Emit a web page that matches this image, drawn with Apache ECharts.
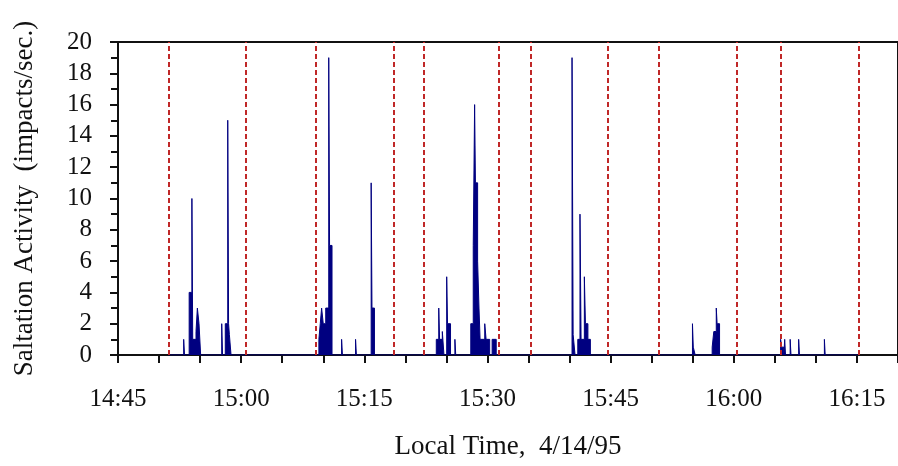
<!DOCTYPE html>
<html>
<head>
<meta charset="utf-8">
<script src="https://cdn.jsdelivr.net/npm/echarts@6/dist/echarts.min.js"></script>
<style>
  html, body { margin: 0; padding: 0; background: #fff; }
  #chart { width: 898px; height: 466px; }
</style>
</head>
<body>
<div id="chart"></div>
<script>
// sample change points: value holds until the next time
const sampleTimes = [
  '14:51:06',
  '14:53:00', '14:53:06', '14:53:40', '14:54:00', '14:54:06', '14:54:30', '14:54:40', '14:54:52', '14:55:04',
  '14:57:38', '14:57:44', '14:58:04', '14:58:22', '14:58:28', '14:58:34', '14:58:46',
  '15:09:28', '15:09:38', '15:09:48', '15:10:00', '15:10:18', '15:10:40', '15:10:46', '15:11:04',
  '15:12:14', '15:12:20', '15:13:56', '15:14:02', '15:15:50', '15:15:56', '15:16:14',
  '15:23:46', '15:24:04', '15:24:10', '15:24:30', '15:24:42', '15:25:02', '15:25:08', '15:25:30', '15:26:02', '15:26:08',
  '15:27:58', '15:28:16', '15:28:26', '15:28:32', '15:28:48', '15:28:58', '15:29:06', '15:29:40', '15:29:50', '15:30:16', '15:30:34', '15:31:04',
  '15:40:18', '15:40:26', '15:40:40', '15:41:00', '15:41:16', '15:41:24', '15:41:48', '15:41:56', '15:42:14', '15:42:32',
  '15:54:58', '15:55:04', '15:55:18', '15:57:22', '15:57:34', '15:57:52', '15:57:58', '15:58:16',
  '16:05:42', '16:05:50', '16:06:06', '16:06:12', '16:06:18', '16:06:52', '16:06:58', '16:07:54', '16:08:00', '16:11:02', '16:11:08',
  '16:15:08'
];
const activity = [
  0,
  1, 0, 4, 10, 1, 1.5, 3, 2, 0,
  2, 0, 2, 15, 2, 1.3, 0,
  1, 2, 3, 2, 3, 19, 7, 0,
  1, 0, 1, 0, 11, 3, 0,
  1, 3, 1, 1.5, 0, 5, 2, 0, 1, 0,
  2, 7, 16, 11, 6, 3, 1, 2, 1, 0, 1, 0,
  19, 1.3, 0, 1, 9, 1, 5, 2, 1, 0,
  2, 0.5, 0, 0.5, 1.5, 3, 2, 0,
  1, 0.5, 0, 1, 0, 1, 0, 1, 0, 1, 0,
  0
];
// red dashed run boundaries
const runMarks = ['14:51:08', '15:00:32', '15:09:07', '15:18:33', '15:22:13', '15:31:25',
  '15:35:20', '15:44:37', '15:50:55', '16:00:20', '16:05:44', '16:15:14'];

const yTicks = { min: 0, max: 20, step: 2 };
const xStart = '14:45';  // axis origin
const xEnd = '16:20';

const FONT = "'Liberation Serif', 'Times New Roman', serif";

const toMinBase = 14 * 60 + 45;

// minutes after 14:45
function toMin(s) {
  const p = s.split(':').map(Number);
  const t = p[0] * 60 + p[1] + (p[2] || 0) / 60;
  return t - toMinBase;
}

function fmtClock(v) {
  const t = Math.round(toMinBase + v);
  const h = Math.floor(t / 60);
  const m = t % 60;
  return h + ':' + String(m).padStart(2, '0');
}

const seriesData = sampleTimes.map((t, i) => [toMin(t), activity[i]]);

const chart = echarts.init(document.getElementById('chart'));
chart.setOption({
  animation: false,
  grid: {
    left: 118, top: 42, bottom: 111, right: -2,
    show: true, borderColor: '#111', borderWidth: 2, backgroundColor: 'transparent'
  },
  xAxis: {
    type: 'value',
    min: toMin(xStart),
    max: toMin(xEnd),
    interval: 15,
    name: 'Local Time,  4/14/95',
    nameLocation: 'middle',
    nameGap: 78,
    nameTextStyle: { fontFamily: FONT, fontSize: 27, color: '#111' },
    axisLine: { show: true, onZero: false, lineStyle: { color: '#111', width: 2 } },
    axisTick: { show: true, length: 8, lineStyle: { color: '#111', width: 2 } },
    minorTick: { show: true, splitNumber: 3, length: 8, lineStyle: { color: '#111', width: 2 } },
    axisLabel: {
      fontFamily: FONT, fontSize: 25, color: '#111', margin: 32,
      showMaxLabel: false,
      formatter: fmtClock
    },
    splitLine: { show: false }
  },
  yAxis: {
    type: 'value',
    min: yTicks.min,
    max: yTicks.max,
    interval: yTicks.step,
    name: 'Saltation Activity  (impacts/sec.)',
    nameLocation: 'middle',
    nameGap: 80,
    nameRotate: 90,
    nameTextStyle: { fontFamily: FONT, fontSize: 27, color: '#111' },
    axisLine: { show: true, lineStyle: { color: '#111', width: 2 } },
    axisTick: { show: true, length: 8, lineStyle: { color: '#111', width: 2 } },
    minorTick: { show: true, splitNumber: 2, length: 7, lineStyle: { color: '#111', width: 2 } },
    axisLabel: { fontFamily: FONT, fontSize: 25, color: '#111', margin: 26 },
    splitLine: { show: false }
  },
  series: [
    {
      name: 'Saltation',
      type: 'line',
      step: 'end',
      data: seriesData,
      symbol: 'none',
      lineStyle: { color: '#000080', width: 1 },
      areaStyle: { color: '#000080', opacity: 1 },
      z: 3,
      markLine: {
        silent: true,
        symbol: 'none',
        label: { show: false },
        lineStyle: { color: '#c02828', type: [5, 3], width: 2 },
        data: runMarks.map(t => ({ xAxis: toMin(t) }))
      }
    }
  ]
});
</script>
</body>
</html>
